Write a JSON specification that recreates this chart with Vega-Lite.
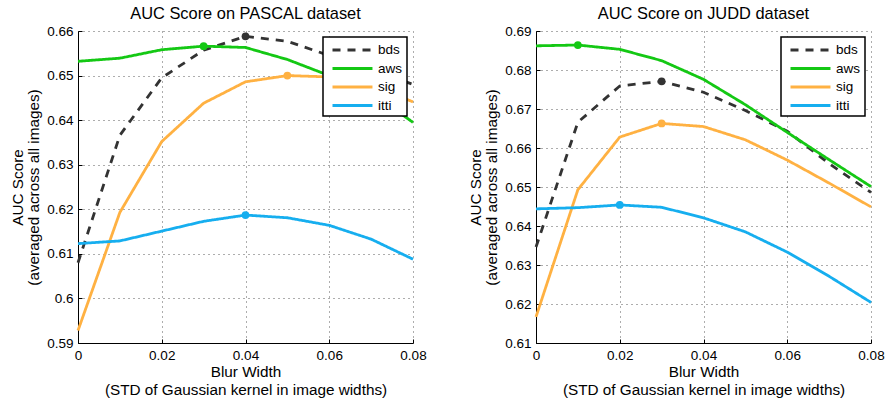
{
  "$schema": "https://vega.github.io/schema/vega-lite/v6.json",
  "padding": {"left": 10, "top": 5, "right": 5, "bottom": 5},
  "spacing": 41,
  "datasets": {
    "pascal": [
      {"series": "bds", "x": 0, "y": 0.608}, {"series": "bds", "x": 0.01, "y": 0.6366}, {"series": "bds", "x": 0.02, "y": 0.6495}, {"series": "bds", "x": 0.03, "y": 0.6557}, {"series": "bds", "x": 0.04, "y": 0.6588, "peak": true}, {"series": "bds", "x": 0.05, "y": 0.6577}, {"series": "bds", "x": 0.06, "y": 0.6545}, {"series": "bds", "x": 0.07, "y": 0.6515}, {"series": "bds", "x": 0.08, "y": 0.648},
      {"series": "aws", "x": 0, "y": 0.6532}, {"series": "aws", "x": 0.01, "y": 0.6539}, {"series": "aws", "x": 0.02, "y": 0.6558}, {"series": "aws", "x": 0.03, "y": 0.6566, "peak": true}, {"series": "aws", "x": 0.04, "y": 0.6563}, {"series": "aws", "x": 0.05, "y": 0.6536}, {"series": "aws", "x": 0.06, "y": 0.65}, {"series": "aws", "x": 0.07, "y": 0.6462}, {"series": "aws", "x": 0.08, "y": 0.6395},
      {"series": "sig", "x": 0, "y": 0.5928}, {"series": "sig", "x": 0.01, "y": 0.6193}, {"series": "sig", "x": 0.02, "y": 0.6352}, {"series": "sig", "x": 0.03, "y": 0.6438}, {"series": "sig", "x": 0.04, "y": 0.6486}, {"series": "sig", "x": 0.05, "y": 0.65, "peak": true}, {"series": "sig", "x": 0.06, "y": 0.6497}, {"series": "sig", "x": 0.07, "y": 0.6478}, {"series": "sig", "x": 0.08, "y": 0.6441},
      {"series": "itti", "x": 0, "y": 0.6123}, {"series": "itti", "x": 0.01, "y": 0.6129}, {"series": "itti", "x": 0.02, "y": 0.6151}, {"series": "itti", "x": 0.03, "y": 0.6173}, {"series": "itti", "x": 0.04, "y": 0.6187, "peak": true}, {"series": "itti", "x": 0.05, "y": 0.6181}, {"series": "itti", "x": 0.06, "y": 0.6164}, {"series": "itti", "x": 0.07, "y": 0.6133}, {"series": "itti", "x": 0.08, "y": 0.6088}
    ],
    "judd": [
      {"series": "bds", "x": 0, "y": 0.6346}, {"series": "bds", "x": 0.01, "y": 0.6666}, {"series": "bds", "x": 0.02, "y": 0.6759}, {"series": "bds", "x": 0.03, "y": 0.6771, "peak": true}, {"series": "bds", "x": 0.04, "y": 0.6743}, {"series": "bds", "x": 0.05, "y": 0.6696}, {"series": "bds", "x": 0.06, "y": 0.6643}, {"series": "bds", "x": 0.07, "y": 0.656}, {"series": "bds", "x": 0.08, "y": 0.6486},
      {"series": "aws", "x": 0, "y": 0.6862}, {"series": "aws", "x": 0.01, "y": 0.6864, "peak": true}, {"series": "aws", "x": 0.02, "y": 0.6853}, {"series": "aws", "x": 0.03, "y": 0.6824}, {"series": "aws", "x": 0.04, "y": 0.6776}, {"series": "aws", "x": 0.05, "y": 0.6711}, {"series": "aws", "x": 0.06, "y": 0.664}, {"series": "aws", "x": 0.07, "y": 0.657}, {"series": "aws", "x": 0.08, "y": 0.6501},
      {"series": "sig", "x": 0, "y": 0.6167}, {"series": "sig", "x": 0.01, "y": 0.6493}, {"series": "sig", "x": 0.02, "y": 0.6628}, {"series": "sig", "x": 0.03, "y": 0.6663, "peak": true}, {"series": "sig", "x": 0.04, "y": 0.6655}, {"series": "sig", "x": 0.05, "y": 0.6621}, {"series": "sig", "x": 0.06, "y": 0.6569}, {"series": "sig", "x": 0.07, "y": 0.651}, {"series": "sig", "x": 0.08, "y": 0.6449},
      {"series": "itti", "x": 0, "y": 0.6444}, {"series": "itti", "x": 0.01, "y": 0.6447}, {"series": "itti", "x": 0.02, "y": 0.6454, "peak": true}, {"series": "itti", "x": 0.03, "y": 0.6448}, {"series": "itti", "x": 0.04, "y": 0.6421}, {"series": "itti", "x": 0.05, "y": 0.6385}, {"series": "itti", "x": 0.06, "y": 0.6333}, {"series": "itti", "x": 0.07, "y": 0.6271}, {"series": "itti", "x": 0.08, "y": 0.6204}
    ]
  },
  "hconcat": [
    {
      "width": 335, "height": 312,
      "title": "AUC Score on PASCAL dataset",
      "data": {"name": "pascal"},
      "encoding": {
        "x": {"field": "x", "type": "quantitative", "scale": {"domain": [0, 0.08], "nice": false},
              "axis": {"values": [0, 0.02, 0.04, 0.06, 0.08], "format": ".2~f", "title": ["Blur Width", "(STD of Gaussian kernel in image widths)"]}},
        "y": {"field": "y", "type": "quantitative", "scale": {"domain": [0.59, 0.66], "zero": false, "nice": false},
              "axis": {"values": [0.59, 0.6, 0.61, 0.62, 0.63, 0.64, 0.65, 0.66], "format": ".2~f", "title": ["AUC Score", "(averaged across all images)"]}}
      },
      "layer": [
        {"mark": {"type": "line", "strokeWidth": 2.8},
         "encoding": {
           "color": {"field": "series", "type": "nominal", "sort": null, "scale": {"domain": ["bds", "aws", "sig", "itti"], "range": ["#333333", "#14c814", "#ffb142", "#16aeef"]}, "legend": {"orient": "none", "legendX": 245, "legendY": 6}},
           "strokeDash": {"field": "series", "type": "nominal", "sort": null, "scale": {"domain": ["bds", "aws", "sig", "itti"], "range": [[8, 7], [1, 0], [1, 0], [1, 0]]}, "legend": {"orient": "none", "legendX": 245, "legendY": 6}}
         }},
        {"transform": [{"filter": "datum.peak"}],
         "mark": {"type": "circle", "size": 60, "opacity": 1},
         "encoding": {
           "fill": {"field": "series", "type": "nominal", "scale": {"domain": ["bds", "aws", "sig", "itti"], "range": ["#333333", "#14c814", "#ffb142", "#16aeef"]}, "legend": null}
         }}
      ]
    },
    {
      "width": 335, "height": 312,
      "title": "AUC Score on JUDD dataset",
      "data": {"name": "judd"},
      "encoding": {
        "x": {"field": "x", "type": "quantitative", "scale": {"domain": [0, 0.08], "nice": false},
              "axis": {"values": [0, 0.02, 0.04, 0.06, 0.08], "format": ".2~f", "title": ["Blur Width", "(STD of Gaussian kernel in image widths)"]}},
        "y": {"field": "y", "type": "quantitative", "scale": {"domain": [0.61, 0.69], "zero": false, "nice": false},
              "axis": {"values": [0.61, 0.62, 0.63, 0.64, 0.65, 0.66, 0.67, 0.68, 0.69], "format": ".2~f", "title": ["AUC Score", "(averaged across all images)"]}}
      },
      "layer": [
        {"mark": {"type": "line", "strokeWidth": 2.8},
         "encoding": {
           "color": {"field": "series", "type": "nominal", "sort": null, "scale": {"domain": ["bds", "aws", "sig", "itti"], "range": ["#333333", "#14c814", "#ffb142", "#16aeef"]}, "legend": {"orient": "none", "legendX": 245, "legendY": 6}},
           "strokeDash": {"field": "series", "type": "nominal", "sort": null, "scale": {"domain": ["bds", "aws", "sig", "itti"], "range": [[8, 7], [1, 0], [1, 0], [1, 0]]}, "legend": {"orient": "none", "legendX": 245, "legendY": 6}}
         }},
        {"transform": [{"filter": "datum.peak"}],
         "mark": {"type": "circle", "size": 60, "opacity": 1},
         "encoding": {
           "fill": {"field": "series", "type": "nominal", "scale": {"domain": ["bds", "aws", "sig", "itti"], "range": ["#333333", "#14c814", "#ffb142", "#16aeef"]}, "legend": null}
         }}
      ]
    }
  ],
  "resolve": {"scale": {"color": "independent", "strokeDash": "independent", "fill": "independent"}, "legend": {"color": "independent", "strokeDash": "independent"}},
  "config": {
    "font": "Liberation Sans",
    "view": {"stroke": null},
    "axis": {"domainColor": "black", "domainWidth": 1, "ticks": true, "tickSize": -4, "tickColor": "black", "tickWidth": 1, "labelFontSize": 13.5, "labelColor": "black", "labelPadding": 9, "labelFlush": false,
             "titleFontSize": 15.3, "titleFontWeight": "normal", "titleColor": "black",
             "grid": true, "gridDash": [1, 4], "gridColor": "#333333", "gridOpacity": 0.8, "gridWidth": 1},
    "axisX": {"titlePadding": 3, "titleLineHeight": 18},
    "axisY": {"titlePadding": 5, "titleLineHeight": 16},
    "title": {"fontSize": 16.4, "fontWeight": "normal", "color": "black", "offset": 2},
    "legend": {"title": null, "fillColor": "white", "strokeColor": "black", "strokeWidth": 1.5, "padding": 4, "symbolOffset": 4, "symbolType": "M-1,0H4.33", "symbolSize": 225, "symbolStrokeWidth": 3, "labelFontSize": 13.5, "labelColor": "black", "rowPadding": 2.5, "labelOffset": 29}
  }
}
